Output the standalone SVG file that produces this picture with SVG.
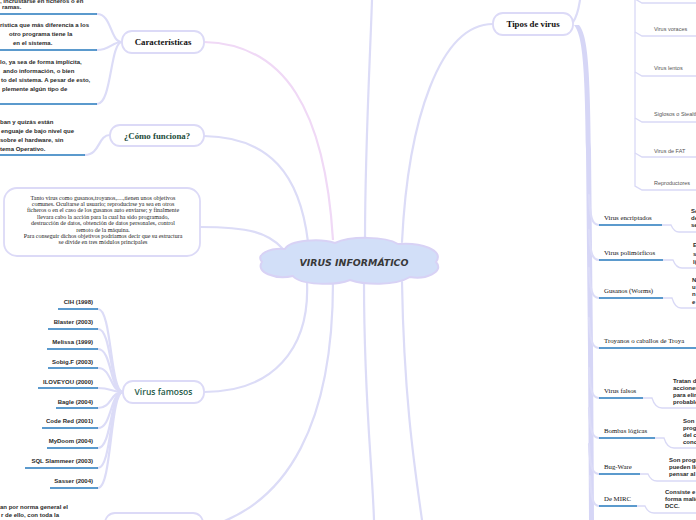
<svg xmlns="http://www.w3.org/2000/svg" width="696" height="520" viewBox="0 0 696 520">
<style>
.c{fill:none;stroke:#dcdcf7;stroke-width:2.2;stroke-linecap:round}
.cp{fill:none;stroke:#f0d9f6;stroke-width:2.2}
.u{stroke:#2579bd;stroke-width:1.5;fill:none}
.lv{fill:none;stroke:#d9d9f6;stroke-width:1.3}
.box{fill:#fff;stroke:#dcdaf7;stroke-width:1.8}
.lt{font-family:"Liberation Sans",Arial,sans-serif;font-size:6px;font-weight:bold;fill:#2a2a2a}
.vf{font-family:"Liberation Sans",Arial,sans-serif;font-size:6px;font-weight:bold;fill:#2a2a2a;text-anchor:end}
.rl{font-family:"Liberation Serif","Times New Roman",serif;font-size:6.8px;fill:#111}
.sl{font-family:"Liberation Sans",Arial,sans-serif;font-size:5.5px;fill:#555}
.tn{font-family:"Liberation Serif","Times New Roman",serif;font-size:6px;fill:#222;text-anchor:middle}
.nt{font-family:"Liberation Serif","Times New Roman",serif;font-size:8.8px;font-weight:bold;text-anchor:middle}
</style>

<g id="connectors">
  <path class="cp" d="M333,240 C325,110 285,44 204,42"/>
  <path class="c" d="M308,242 C300,175 270,137 204,136"/>
  <path class="c" d="M282,248 C268,233 250,227 200,227"/>
  <path class="c" d="M365,240 C365,150 370,60 372,0"/>
  <path class="c" d="M402,242 C408,120 440,24 493,24"/>
  <path class="c" d="M307,282 C310,350 272,392 204,392"/>
  <path class="c" d="M333,282 C333,420 290,505 204,528"/>
  <path class="c" d="M364,282 C364,400 372,460 374,520"/>
  <path class="c" d="M402,282 C404,400 415,470 422,520"/>
  <path class="c" d="M97,14 C112,14 110,42 122,42"/>
  <path class="c" d="M97,50 C110,50 112,42 122,42"/>
  <path class="c" d="M97,104 C112,104 110,42 122,42"/>
  <path class="c" d="M85,155 C100,155 98,135 110,135"/>
  <path class="c" d="M98,309 C112,309 110,392 123,392"/>
  <path class="c" d="M98,329 C112,329 110,392 123,392"/>
  <path class="c" d="M98,349 C112,349 110,392 123,392"/>
  <path class="c" d="M98,368 C112,368 110,392 123,392"/>
  <path class="c" d="M98,388 C112,388 110,392 123,392"/>
  <path class="c" d="M98,408 C112,408 110,392 123,392"/>
  <path class="c" d="M98,428 C112,428 110,392 123,392"/>
  <path class="c" d="M98,448 C112,448 110,392 123,392"/>
  <path class="c" d="M98,468 C112,468 110,392 123,392"/>
  <path class="c" d="M98,488 C112,488 110,392 123,392"/>
  <path class="c" d="M573,22 C578,15 579,6 580,0"/>
  <path d="M574,25 C582,35 585,60 586,150 L588,350 L589,520 L594,520 L593,350 L591,150 C590,60 587,35 579,25 Z" fill="#d6d6f6"/>
  <path class="c" d="M589,195 C590,217 592,225 599,225"/>
  <path class="c" d="M589,230 C590,252 592,260 599,260"/>
  <path class="c" d="M589,268 C590,290 592,298 599,298"/>
  <path class="c" d="M589,318 C590,340 592,348 599,348"/>
  <path class="c" d="M589,368 C590,390 592,398 599,398"/>
  <path class="c" d="M589,408 C590,430 592,438 599,438"/>
  <path class="c" d="M589,444 C590,466 592,474 599,474"/>
  <path class="c" d="M590,476 C591,498 593,506 599,506"/>
</g>

<g id="center">
  <path d="M262,262 C255,254 270,248 285,249 C290,240 320,238 335,243 C350,236 385,236 398,244 C420,242 445,250 436,262 C445,272 425,280 410,277 C395,286 365,285 350,280 C335,286 300,285 293,276 C275,280 255,272 262,262 Z" fill="#d2dff8" stroke="#d8d2f5" stroke-width="2"/>
  <text x="354" y="266" text-anchor="middle" font-family="'DejaVu Sans',sans-serif" font-size="9.4" font-weight="bold" font-style="italic" fill="#383838">VIRUS INFORMÁTICO</text>
</g>

<g id="caracteristicas">
  <rect class="box" x="122" y="31" width="82" height="22" rx="10"/>
  <text class="nt" x="163" y="45" fill="#111">Características</text>
</g>
<g id="car-1">
  <text class="lt" x="0" y="3">, incrustarse en ficheros o en</text>
  <text class="lt" x="2" y="9">ramas.</text>
  <line class="u" x1="0" y1="14" x2="97" y2="14"/>
</g>
<g id="car-2">
  <text class="lt" x="0" y="27">rística que más diferencia a los</text>
  <text class="lt" x="9" y="36">otro programa tiene la</text>
  <text class="lt" x="13" y="45">en el sistema.</text>
  <line class="u" x1="0" y1="50" x2="97" y2="50"/>
</g>
<g id="car-3">
  <text class="lt" x="0" y="64">lo, ya sea de forma implícita,</text>
  <text class="lt" x="3" y="73">ando información, o bien</text>
  <text class="lt" x="1" y="82">to del sistema. A pesar de esto,</text>
  <text class="lt" x="2" y="91">plemente algún tipo de</text>
  <line class="u" x1="0" y1="104" x2="97" y2="104"/>
</g>

<g id="como-funciona">
  <rect class="box" x="110" y="125" width="94" height="21" rx="10"/>
  <text class="nt" x="157" y="138.5" fill="#1c4c3a">¿Cómo funciona?</text>
</g>
<g id="como-1">
  <text class="lt" x="0" y="124">ban y quizás están</text>
  <text class="lt" x="1" y="133">enguaje de bajo nivel que</text>
  <text class="lt" x="0" y="142">sobre el hardware, sin</text>
  <text class="lt" x="0" y="151">tema Operativo.</text>
  <line class="u" x1="0" y1="155" x2="85" y2="155"/>
</g>

<g id="texto-objetivos">
  <rect class="box" x="4" y="188" width="196" height="68" rx="13"/>
  <text class="tn" x="103" y="200">Tanto virus como gusanos,troyanos,…,tienen unos objetivos</text>
  <text class="tn" x="103" y="206">comunes. Ocultarse al usuario; reproducirse ya sea en otros</text>
  <text class="tn" x="103" y="212.2">ficheros o en el caso de los gusanos auto enviarse; y finalmente</text>
  <text class="tn" x="103" y="219">llevara cabo la acción para la cual ha sido programado,</text>
  <text class="tn" x="103" y="225">destrucción de datos, obtención de datos personales, control</text>
  <text class="tn" x="103" y="231.6">remoto de la máquina.</text>
  <text class="tn" x="103" y="238.2">Para conseguir dichos objetivos podríamos decir que su estructura</text>
  <text class="tn" x="103" y="244">se divide en tres módulos principales</text>
</g>

<g id="virus-famosos">
  <rect class="box" x="123" y="381" width="81" height="22" rx="10"/>
  <text x="163.5" y="395" text-anchor="middle" font-family="'Open Sans','Liberation Sans',sans-serif" font-size="8.5" font-weight="600" fill="#1e5a48">Virus famosos</text>
</g>
<g id="famosos-items">
  <text class="vf" x="93" y="304">CIH (1998)</text><line class="u" x1="58" y1="309" x2="98" y2="309"/>
  <text class="vf" x="93" y="324">Blaster (2003)</text><line class="u" x1="48" y1="329" x2="98" y2="329"/>
  <text class="vf" x="93" y="344">Melissa (1999)</text><line class="u" x1="47" y1="349" x2="98" y2="349"/>
  <text class="vf" x="93" y="363.5">Sobig.F (2003)</text><line class="u" x1="48" y1="368" x2="98" y2="368"/>
  <text class="vf" x="93" y="383.5">ILOVEYOU (2000)</text><line class="u" x1="38" y1="388" x2="98" y2="388"/>
  <text class="vf" x="93" y="403.5">Bagle (2004)</text><line class="u" x1="56" y1="408" x2="98" y2="408"/>
  <text class="vf" x="93" y="423">Code Red (2001)</text><line class="u" x1="42" y1="428" x2="98" y2="428"/>
  <text class="vf" x="93" y="443">MyDoom (2004)</text><line class="u" x1="47" y1="448" x2="98" y2="448"/>
  <text class="vf" x="93" y="463">SQL Slammeer (2003)</text><line class="u" x1="25" y1="468" x2="98" y2="468"/>
  <text class="vf" x="93" y="483">Sasser (2004)</text><line class="u" x1="50" y1="488" x2="98" y2="488"/>
</g>

<g id="bottom-left">
  <text class="lt" x="0" y="509">an por norma general el</text>
  <text class="lt" x="1" y="517">r de ello, con toda la</text>
  <rect class="box" x="105" y="513" width="98" height="24" rx="10"/>
</g>

<g id="tipos-de-virus">
  <rect class="box" x="493" y="13" width="80" height="22" rx="10"/>
  <text class="nt" x="533" y="27" fill="#111">Tipos de virus</text>
</g>

<g id="subtipos">
  <path class="lv" d="M635,-5 V186 L642,190 H696"/>
  <path class="lv" d="M635,-1 L642,3 H696"/>
  <path class="lv" d="M635,32 L642,36 H696"/>
  <path class="lv" d="M635,72 L642,76 H696"/>
  <path class="lv" d="M635,118 L642,122 H696"/>
  <path class="lv" d="M635,153 L642,157 H696"/>
  <text class="sl" x="654" y="31">Virus voraces</text>
  <text class="sl" x="654" y="70">Virus lentos</text>
  <text class="sl" x="654" y="116">Siglosos o Stealth</text>
  <text class="sl" x="654" y="153">Virus de FAT</text>
  <text class="sl" x="654" y="185">Reproductores</text>
</g>

<g id="virus-encriptados">
  <text class="rl" x="604" y="220">Virus encriptados</text>
  <line class="u" x1="599" y1="225" x2="662" y2="225"/>
  <path class="lv" d="M662,225 H671 Q674,232 679,232 H696"/>
  <text class="lt" x="691" y="213">Se</text><text class="lt" x="691" y="220">de</text><text class="lt" x="691" y="227">se</text>
</g>
<g id="virus-polimorficos">
  <text class="rl" x="604" y="255">Virus polimórficos</text>
  <line class="u" x1="599" y1="260" x2="663" y2="260"/>
  <path class="lv" d="M663,260 H673 Q676,268 682,268 H696"/>
  <text class="lt" x="693" y="247">E</text><text class="lt" x="693" y="256">s</text><text class="lt" x="693" y="264">l(</text>
</g>
<g id="gusanos">
  <text class="rl" x="604" y="293">Gusanos (Worms)</text>
  <line class="u" x1="599" y1="298" x2="663" y2="298"/>
  <path class="lv" d="M663,298 H672 Q675,308 681,308 H696"/>
  <text class="lt" x="692" y="282">N</text><text class="lt" x="692" y="289">u</text><text class="lt" x="692" y="296">n</text><text class="lt" x="692" y="304">e</text>
</g>
<g id="troyanos">
  <text class="rl" x="604" y="343">Troyanos o caballos de Troya</text>
  <line class="u" x1="599" y1="348" x2="696" y2="348"/>
</g>
<g id="virus-falsos">
  <text class="rl" x="604" y="393">Virus falsos</text>
  <line class="u" x1="599" y1="398" x2="643" y2="398"/>
  <path class="lv" d="M643,398 H652 Q655,408 662,408 H696"/>
  <text class="lt" x="673" y="383">Tratan de</text><text class="lt" x="673" y="390">acciones</text><text class="lt" x="673" y="397">para elim</text><text class="lt" x="673" y="404">probable</text>
</g>
<g id="bombas-logicas">
  <text class="rl" x="604" y="433">Bombas lógicas</text>
  <line class="u" x1="599" y1="438" x2="655" y2="438"/>
  <path class="lv" d="M655,438 H664 Q667,448 674,448 H696"/>
  <text class="lt" x="683" y="423">Son</text><text class="lt" x="683" y="429.5">prog</text><text class="lt" x="683" y="436.5">del c</text><text class="lt" x="683" y="443.5">conc</text>
</g>
<g id="bug-ware">
  <text class="rl" x="604" y="469">Bug-Ware</text>
  <line class="u" x1="599" y1="474" x2="640" y2="474"/>
  <path class="lv" d="M640,474 H648 Q651,481 657,481 H696"/>
  <text class="lt" x="669" y="462">Son progr</text><text class="lt" x="669" y="469">pueden lle</text><text class="lt" x="669" y="476">pensar al</text>
</g>
<g id="de-mirc">
  <text class="rl" x="604" y="501">De MIRC</text>
  <line class="u" x1="599" y1="506" x2="637" y2="506"/>
  <path class="lv" d="M637,506 H645 Q648,513 654,513 H696"/>
  <text class="lt" x="665" y="494">Consiste e</text><text class="lt" x="665" y="501">forma malic</text><text class="lt" x="665" y="508">DCC.</text>
</g>
</svg>
